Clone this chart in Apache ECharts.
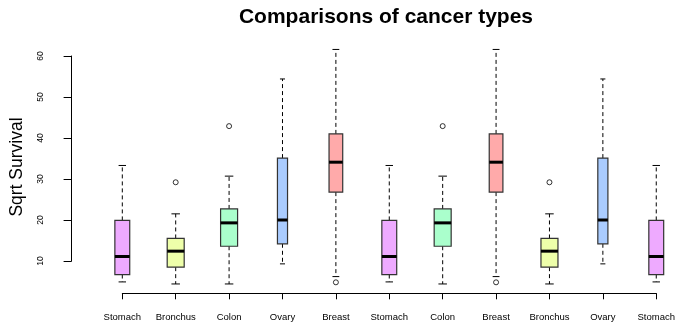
<!DOCTYPE html>
<html>
<head>
<meta charset="utf-8">
<script src="https://cdn.jsdelivr.net/npm/echarts@6/dist/echarts.min.js"></script>
<style>html,body{margin:0;padding:0;background:#fff;}#c{width:678px;height:323px;}</style>
</head>
<body>
<div id="c"></div>
<script>
const categories = ['Stomach','Bronchus','Colon','Ovary','Breast','Stomach','Colon','Breast','Bronchus','Ovary','Stomach'];
const cancerTypes = ['Stomach','Bronchus','Colon','Ovary','Breast'];
const lowerWhisker = [4.9, 4.4, 4.4, 9.3, 6.2];
const lowerHinge = [6.7, 8.5, 13.6, 14.2, 26.8];
const medianVal = [11.1, 12.4, 19.3, 20.0, 34.1];
const upperHinge = [19.9, 15.5, 22.7, 35.1, 41.0];
const upperWhisker = [33.3, 21.5, 30.7, 54.4, 61.6];
const sampleSize = [13, 17, 17, 6, 11];
const outlierType = ['Bronchus', 'Colon', 'Breast'];
const outlierValue = [29.2, 42.9, 4.8];
const yTicks = [10, 20, 30, 40, 50, 60];

const fills = { Stomach: '#EEAAFF', Bronchus: '#EEFFAA', Colon: '#AAFFCC', Ovary: '#AACCFF', Breast: '#FFAAAA' };
const FONT = 'Liberation Sans, Arial, Helvetica, sans-serif';
const MAXW = 17;
const maxN = Math.max.apply(null, sampleSize);

const boxData = categories.map((c, i) => {
  const t = cancerTypes.indexOf(c);
  return [i, lowerWhisker[t], lowerHinge[t], medianVal[t], upperHinge[t], upperWhisker[t], t];
});
const outData = [];
categories.forEach((c, i) => {
  outlierType.forEach((t, k) => { if (t === c) outData.push([i, outlierValue[k]]); });
});

const chart = echarts.init(document.getElementById('c'), null, { renderer: 'canvas' });
chart.setOption({
  animation: false,
  backgroundColor: '#fff',
  graphic: [
    { type: 'text', x: 386, y: 17, style: { text: 'Comparisons of cancer types', font: 'bold 21px ' + FONT, fill: '#000', align: 'center', verticalAlign: 'middle' } },
    { type: 'text', x: 17, y: 167, rotation: Math.PI / 2, style: { text: 'Sqrt Survival', font: '17.5px ' + FONT, fill: '#000', align: 'center', verticalAlign: 'middle' } }
  ],
  grid: [
    { left: 71.6, top: 56, width: 600, height: 205, containLabel: false },
    { left: 122.3, top: 56, width: 536, height: 205, containLabel: false }
  ],
  xAxis: [
    { gridIndex: 0, type: 'value', show: false },
    {
      gridIndex: 1, type: 'category', data: categories, boundaryGap: false, offset: 32.3,
      axisLine: { lineStyle: { color: '#000', width: 1 } },
      axisTick: { length: 6, lineStyle: { color: '#000' } },
      axisLabel: { interval: 0, color: '#000', fontSize: 9.5, fontFamily: FONT, margin: 19.5 },
      splitLine: { show: false }
    }
  ],
  yAxis: [
    {
      gridIndex: 0, type: 'value', min: 10, max: 60, interval: 10,
      axisLine: { show: true, lineStyle: { color: '#000', width: 1 } },
      axisTick: { show: true, length: 8, lineStyle: { color: '#000' } },
      axisLabel: { rotate: 90, color: '#000', fontSize: 8.5, fontFamily: FONT, margin: 26,
        formatter: v => yTicks.indexOf(v) >= 0 ? String(v) : '' },
      splitLine: { show: false }
    },
    { gridIndex: 1, type: 'value', min: 10, max: 60, interval: 10, show: false }
  ],
  series: [
    {
      type: 'custom', xAxisIndex: 1, yAxisIndex: 1, clip: false,
      data: boxData,
      renderItem: function (params, api) {
        const x = api.value(0);
        const t = api.value(6);
        const w = MAXW * Math.sqrt(sampleSize[t] / maxN);
        const pLo = api.coord([x, api.value(1)]);
        const pQ1 = api.coord([x, api.value(2)]);
        const pMed = api.coord([x, api.value(3)]);
        const pQ3 = api.coord([x, api.value(4)]);
        const pHi = api.coord([x, api.value(5)]);
        const cx = pMed[0];
        const cw = w / 2;
        const dash = { stroke: '#000', lineWidth: 1, lineDash: [4, 3] };
        const solid = { stroke: '#000', lineWidth: 1 };
        return {
          type: 'group',
          children: [
            { type: 'line', shape: { x1: cx, y1: pQ3[1], x2: cx, y2: pHi[1] }, style: dash },
            { type: 'line', shape: { x1: cx, y1: pQ1[1], x2: cx, y2: pLo[1] }, style: dash },
            { type: 'line', shape: { x1: cx - cw / 2, y1: pHi[1], x2: cx + cw / 2, y2: pHi[1] }, style: solid },
            { type: 'line', shape: { x1: cx - cw / 2, y1: pLo[1], x2: cx + cw / 2, y2: pLo[1] }, style: solid },
            { type: 'rect', shape: { x: cx - w / 2, y: pQ3[1], width: w, height: pQ1[1] - pQ3[1] },
              style: { fill: fills[cancerTypes[t]], stroke: '#333', lineWidth: 1.2 } },
            { type: 'line', shape: { x1: cx - w / 2, y1: pMed[1], x2: cx + w / 2, y2: pMed[1] }, style: { stroke: '#000', lineWidth: 3 } }
          ]
        };
      }
    },
    {
      type: 'scatter', xAxisIndex: 1, yAxisIndex: 1, clip: false,
      data: outData, symbol: 'circle', symbolSize: 5,
      itemStyle: { color: 'rgba(0,0,0,0)', borderColor: '#000', borderWidth: 1 }
    }
  ]
});
</script>
</body>
</html>
